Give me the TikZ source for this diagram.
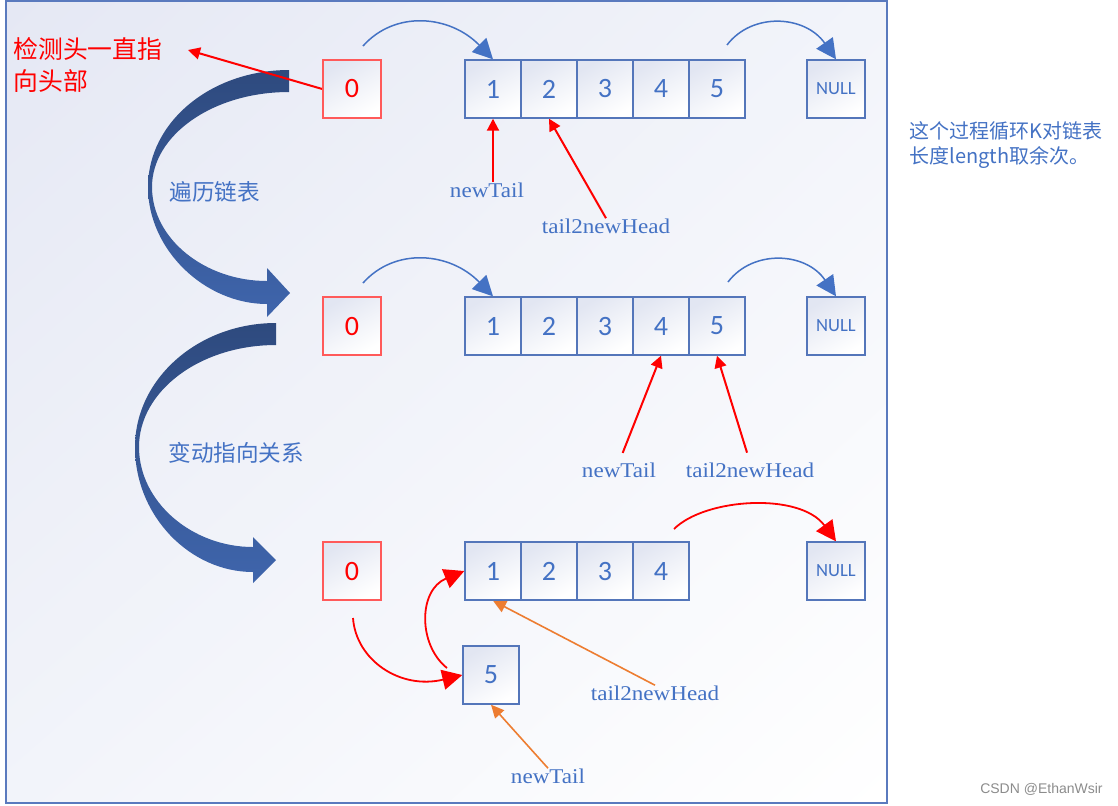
\documentclass[tikz,border=0pt]{standalone}
\usepackage{fontspec}
\setmainfont{Liberation Serif}
\newfontfamily\cjkfont{Noto Sans CJK SC}
\newfontfamily\numfont{Carlito}
\newfontfamily\signfont{Liberation Sans}
\usepackage{xcolor}
\usetikzlibrary{arrows.meta,shadings}
\definecolor{LinkBlue}{RGB}{68,114,196}
\definecolor{BoxLine}{RGB}{84,118,186}
\definecolor{HeadLine}{RGB}{255,90,90}
\definecolor{BoxShade}{RGB}{226,230,242}
\definecolor{BgShade}{RGB}{229,232,244}
\definecolor{BgMid}{RGB}{242,244,250}
\definecolor{FrameBlue}{RGB}{90,122,190}
\definecolor{ArcDark}{RGB}{46,74,126}
\definecolor{ArcLight}{RGB}{63,101,172}
\definecolor{PtrOrange}{RGB}{237,125,49}
\definecolor{SignGray}{RGB}{140,140,140}
\pgfdeclarelayer{edgelayer}
\pgfdeclarelayer{nodelayer}
\pgfsetlayers{edgelayer,nodelayer,main}
\tikzstyle{none}=[inner sep=0pt]
\tikzstyle{cell}=[rectangle,draw=BoxLine,line width=0.7pt,top color=BoxShade,bottom color=white,shading angle=30,minimum width=28pt,minimum height=29pt,inner sep=0pt,text=LinkBlue,font=\numfont\fontsize{14}{14}\selectfont]
\tikzstyle{headbox}=[cell,draw=HeadLine,text=red,minimum width=29pt]
\tikzstyle{nullbox}=[cell,minimum width=29pt,font=\numfont\fontsize{9.3}{10}\selectfont]
\tikzstyle{ptrlabel}=[inner sep=0pt,text=LinkBlue,font=\fontsize{10.5}{11}\selectfont,xscale=1.1]
\tikzstyle{note}=[inner sep=0pt,text=LinkBlue,font=\cjkfont\fontsize{11.3}{14}\selectfont]
\tikzstyle{linkarc}=[-{Triangle[length=10pt,width=10pt]},draw=LinkBlue,line width=0.75pt]
\tikzstyle{redarc}=[-{Triangle[length=10pt,width=10pt]},draw=red,line width=0.9pt]
\tikzstyle{redptr}=[-{Triangle[length=6pt,width=6pt]},draw=red,line width=1pt]
\tikzstyle{orangeptr}=[-{Triangle[length=6.5pt,width=6pt]},draw=PtrOrange,line width=0.8pt]
\tikzstyle{bigarc}=[top color=ArcDark,bottom color=ArcLight]

\begin{document}
\begin{tikzpicture}[x=0.5pt,y=-0.5pt]
	\useasboundingbox (0,0) rectangle (1118,805);
	\begin{pgfonlayer}{nodelayer}
		\node [style=headbox] (0) at (352, 89) {0};
		\node [style=cell] (1) at (493, 89) {1};
		\node [style=cell] (2) at (549, 89) {2};
		\node [style=cell] (3) at (605, 89) {3};
		\node [style=cell] (4) at (661, 89) {4};
		\node [style=cell] (5) at (717, 89) {5};
		\node [style=nullbox] (6) at (836, 89) {NULL};
		\node [style=headbox] (7) at (352, 326) {0};
		\node [style=cell] (8) at (493, 326) {1};
		\node [style=cell] (9) at (549, 326) {2};
		\node [style=cell] (10) at (605, 326) {3};
		\node [style=cell] (11) at (661, 326) {4};
		\node [style=cell] (12) at (717, 326) {5};
		\node [style=nullbox] (13) at (836, 326) {NULL};
		\node [style=headbox] (14) at (352, 571) {0};
		\node [style=cell] (15) at (493, 571) {1};
		\node [style=cell] (16) at (549, 571) {2};
		\node [style=cell] (17) at (605, 571) {3};
		\node [style=cell] (18) at (661, 571) {4};
		\node [style=nullbox] (19) at (836, 571) {NULL};
		\node [style=cell] (20) at (491, 675) {5};
		\node [style=ptrlabel] (21) at (487, 190) {newTail};
		\node [style=ptrlabel] (22) at (606, 226) {tail2newHead};
		\node [style=ptrlabel] (23) at (619, 470) {newTail};
		\node [style=ptrlabel] (24) at (750, 470) {tail2newHead};
		\node [style=ptrlabel] (25) at (655, 693) {tail2newHead};
		\node [style=ptrlabel] (26) at (548, 776) {newTail};
		\node [style=note, text=red, anchor=north west, align=left, font=\cjkfont\fontsize{12.4}{16}\selectfont] (27) at (13, 37) {检测头一直指\\向头部};
		\node [style=note, anchor=west] (28) at (169, 192) {遍历链表};
		\node [style=note, anchor=west] (29) at (168, 453) {变动指向关系};
		\node [style=note, anchor=north west, align=left, font=\cjkfont\fontsize{10}{12.5}\selectfont] (30) at (909, 121) {这个过程循环K对链表\\长度length取余次。};
		\node [style=none, anchor=east, text=SignGray, font=\signfont\fontsize{7}{8}\selectfont] (31) at (1103, 789) {CSDN @EthanWsir};
		\node [style=none] (32) at (363, 46) {};
		\node [style=none] (33) at (727, 45) {};
		\node [style=none] (34) at (363, 283) {};
		\node [style=none] (35) at (728, 282) {};
		\node [style=none] (36) at (674, 529) {};
		\node [style=none] (37) at (353, 618) {};
		\node [style=none] (38) at (447, 668) {};
		\node [style=none] (39) at (188, 50) {};
	\end{pgfonlayer}
	\begin{pgfonlayer}{edgelayer}
		\fill [white] (0, 0) rectangle (1118, 805);
		\shade [upper left=BgShade, upper right=BgMid, lower left=BgMid, lower right=white, draw=FrameBlue, line width=0.6pt] (6, 1) rectangle (887, 803);
		\shade [style=bigarc] (289, 70) .. controls (211, 70) and (148, 122) .. (148, 187) .. controls (148, 250) and (205, 304) .. (267, 304) -- (267, 317) -- (290, 293) -- (267, 268) -- (267, 281) .. controls (205, 281) and (152, 239) .. (152, 187) .. controls (152, 135) and (213, 92) .. (289, 92) -- cycle;
		\shade [style=bigarc] (276, 323) .. controls (198, 323) and (135, 379) .. (135, 447) .. controls (135, 516) and (190, 572) .. (253, 572) -- (253, 583) -- (276, 560) -- (253, 537) -- (253, 547) .. controls (192, 547) and (139, 502) .. (139, 447) .. controls (139, 391) and (200, 345) .. (276, 345) -- cycle;
		\draw [style=linkarc] (32.center) .. controls (395, 10) and (450, 15) .. (1.north);
		\draw [style=linkarc] (33.center) .. controls (752, 12) and (805, 15) .. (6.north);
		\draw [style=linkarc] (34.center) .. controls (395, 247) and (450, 252) .. (8.north);
		\draw [style=linkarc] (35.center) .. controls (753, 249) and (806, 252) .. (13.north);
		\draw [style=redarc] (36.center) .. controls (705, 498) and (800, 492) .. (19.north);
		\draw [style=redarc] (37.center) .. controls (356, 660) and (400, 690) .. (20.west);
		\draw [style=redarc] (38.center) .. controls (418, 645) and (418, 590) .. (15.west);
		\draw [style=redptr] (0.west) to (39.center);
		\draw [style=redptr] (21.north -| 1.south) to (1.south);
		\draw [style=redptr] (22.north) to (2.south);
		\draw [style=redptr, shorten <=5pt] (23.north) to (11.south);
		\draw [style=redptr, shorten <=5pt] (24.north) to (12.south);
		\draw [style=orangeptr] (25.north) to (15.south);
		\draw [style=orangeptr] (26.north) to (20.south);
	\end{pgfonlayer}
\end{tikzpicture}
\end{document}
